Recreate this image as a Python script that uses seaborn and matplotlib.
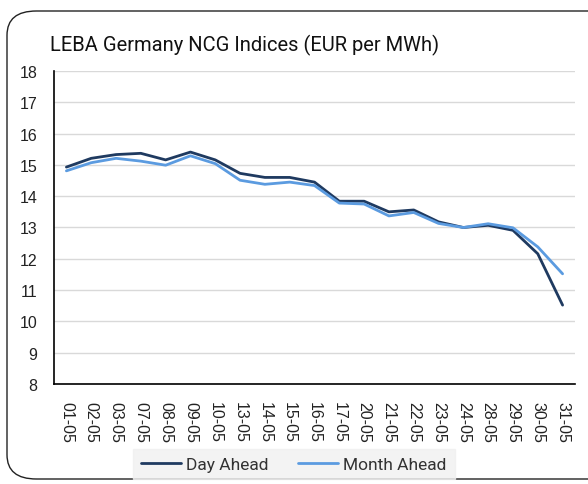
import matplotlib
matplotlib.use("Agg")
import matplotlib.pyplot as plt
import seaborn as sns
import pandas as pd
from matplotlib.patches import FancyBboxPatch
from matplotlib.lines import Line2D

dates = ["01-05", "02-05", "03-05", "07-05", "08-05", "09-05", "10-05", "13-05",
         "14-05", "15-05", "16-05", "17-05", "20-05", "21-05", "22-05", "23-05",
         "24-05", "28-05", "29-05", "30-05", "31-05"]
day_ahead = [14.93, 15.21, 15.33, 15.37, 15.16, 15.41, 15.16, 14.73, 14.60, 14.60,
             14.45, 13.84, 13.84, 13.50, 13.56, 13.18, 13.00, 13.07, 12.91, 12.16, 10.52]
month_ahead = [14.81, 15.07, 15.21, 15.12, 14.99, 15.29, 15.04, 14.51, 14.38, 14.45,
               14.34, 13.78, 13.75, 13.37, 13.48, 13.13, 13.00, 13.12, 12.99, 12.38, 11.52]
series = ["Day Ahead", "Month Ahead"]
colors = ["#1F3A60", "#5B9BE0"]
yticks = [8, 9, 10, 11, 12, 13, 14, 15, 16, 17, 18]

df = pd.DataFrame({
    "date": dates * 2,
    "value": day_ahead + month_ahead,
    "series": [series[0]] * len(dates) + [series[1]] * len(dates),
})

sns.set_theme(style="white")
plt.rcParams["font.family"] = ["Liberation Sans", "DejaVu Sans"]

W, H = 588, 485
fig = plt.figure(figsize=(W / 100, H / 100), dpi=100)
ax = fig.add_axes([54 / W, 1 - 385 / H, (575 - 54) / W, (385 - 72) / H])

sns.lineplot(data=df, x="date", y="value", hue="series", hue_order=series,
             palette=colors, sort=False, linewidth=2.0, ax=ax, legend=False)

ax.set_xlim(-0.5, len(dates) - 0.5)
ax.set_ylim(8, 18)
ax.set_yticks(yticks)
ax.set_xticks(range(len(dates)))
ax.set_xticklabels(dates, rotation=270, fontsize=11.5, color="#222222")
ax.tick_params(axis="y", labelsize=11.5, colors="#222222", length=0, pad=12)
ax.tick_params(axis="x", length=0, pad=12)
ax.set_xlabel("")
ax.set_ylabel("")
ax.grid(axis="y", color="#D9D9D9", linewidth=1.0)
ax.set_axisbelow(True)
for s in ["top", "right"]:
    ax.spines[s].set_visible(False)
for s in ["left", "bottom"]:
    ax.spines[s].set_color("#000000")
    ax.spines[s].set_linewidth(1.2)

fig.text(50 / W, 1 - 45 / H, "LEBA Germany NCG Indices (EUR per MWh)",
         fontsize=14.5, family=["Roboto", "DejaVu Sans"], color="#111111",
         ha="left", va="center")

handles = [Line2D([0], [0], color=c, lw=2.0) for c in colors]
leg = fig.legend(handles, series, loc="center", bbox_to_anchor=(294 / W, 1 - 465 / H),
                 ncol=2, frameon=True, fancybox=False,
                 handlelength=2.3, columnspacing=1.7, handletextpad=0.3,
                 borderpad=0.45, prop={"family": ["Roboto", "DejaVu Sans"], "size": 12.5})
leg.get_frame().set_facecolor("#F0F0F0")
leg.get_frame().set_edgecolor("#F0F0F0")
for t in leg.get_texts():
    t.set_color("#333333")

border = FancyBboxPatch((7 / W, 1 - 480 / H), (620 - 7) / W, (480 - 12) / H,
                        boxstyle="round,pad=0,rounding_size=0.05",
                        transform=fig.transFigure, fill=False,
                        edgecolor="#222222", linewidth=1.0, clip_on=False)
fig.patches.append(border)

fig.savefig("out.png", dpi=100)
